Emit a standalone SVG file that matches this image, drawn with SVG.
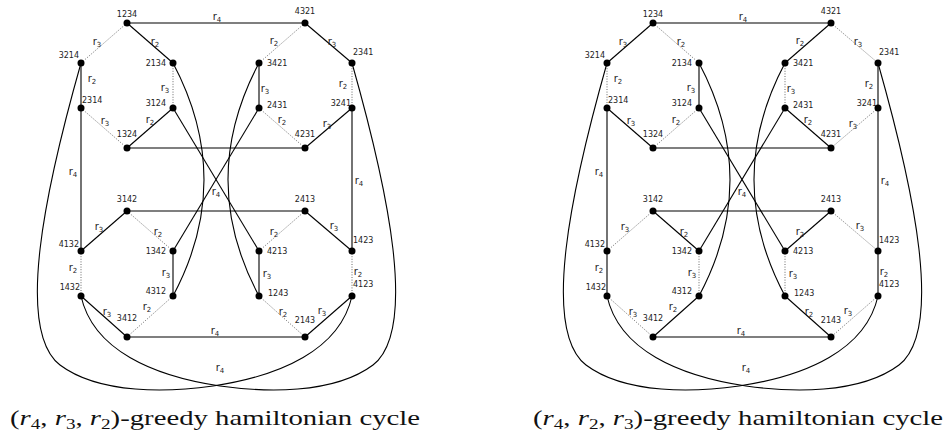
<svg xmlns="http://www.w3.org/2000/svg" width="950" height="442" viewBox="0 0 950 442">
<style>
.s{stroke:#000;stroke-width:1.1;fill:none}
.d{stroke:#444;stroke-width:0.8;fill:none;stroke-dasharray:1 1.6}
.n circle{fill:#000}
.nl{font-family:"DejaVu Sans",sans-serif;font-size:8px;fill:#222}
.rl{font-family:"DejaVu Sans",sans-serif;font-size:10px;fill:#222;text-anchor:middle}
.sub{font-size:7px}
.cap{font-family:"Liberation Serif",serif;font-size:21px;fill:#111}
.m{text-anchor:middle}.e{text-anchor:end}
</style>
<rect width="950" height="442" fill="#fff"/>

<!-- LEFT DIAGRAM -->
<g id="left">
<g id="L-connectors">
<line class="s" x1="127" y1="23" x2="173" y2="63"/>
<line class="s" x1="81" y1="63" x2="81" y2="108"/>
<line class="s" x1="173" y1="108" x2="127" y2="148"/>
<line class="s" x1="305" y1="23" x2="352" y2="63"/>
<line class="s" x1="259" y1="63" x2="259" y2="108"/>
<line class="s" x1="352" y1="108" x2="305" y2="148"/>
<line class="s" x1="127" y1="211" x2="81" y2="251"/>
<line class="s" x1="173" y1="251" x2="173" y2="296"/>
<line class="s" x1="81" y1="296" x2="127" y2="337"/>
<line class="s" x1="305" y1="211" x2="352" y2="251"/>
<line class="s" x1="259" y1="251" x2="259" y2="296"/>
<line class="s" x1="352" y1="296" x2="305" y2="337"/>
<line class="d" x1="127" y1="23" x2="81" y2="63"/>
<line class="d" x1="173" y1="63" x2="173" y2="108"/>
<line class="d" x1="81" y1="108" x2="127" y2="148"/>
<line class="d" x1="305" y1="23" x2="259" y2="63"/>
<line class="d" x1="352" y1="63" x2="352" y2="108"/>
<line class="d" x1="259" y1="108" x2="305" y2="148"/>
<line class="d" x1="127" y1="211" x2="173" y2="251"/>
<line class="d" x1="81" y1="251" x2="81" y2="296"/>
<line class="d" x1="173" y1="296" x2="127" y2="337"/>
<line class="d" x1="305" y1="211" x2="259" y2="251"/>
<line class="d" x1="352" y1="251" x2="352" y2="296"/>
<line class="d" x1="259" y1="296" x2="305" y2="337"/>
<line class="s" x1="127" y1="23" x2="305" y2="23"/>
<line class="s" x1="127" y1="148" x2="305" y2="148"/>
<line class="s" x1="127" y1="211" x2="305" y2="211"/>
<line class="s" x1="127" y1="337" x2="305" y2="337"/>
<line class="s" x1="81" y1="108" x2="81" y2="251"/>
<line class="s" x1="352" y1="108" x2="352" y2="251"/>
<line class="s" x1="173" y1="108" x2="259" y2="251"/>
<line class="s" x1="259" y1="108" x2="173" y2="251"/>
<path class="s" d="M173,63 Q235,180 173,296"/>
<path class="s" d="M259,63 Q197,180 259,296"/>
<path class="s" d="M81,63 C45,190 15,330 60,365 C100,395 170,392 213,386 C280,376 340,350 352,296"/>
<path class="s" d="M352,63 C388,190 418,330 373,365 C333,395 263,392 220,386 C153,376 93,350 81,296"/>
<text class="rl" x="97" y="45">r<tspan class="sub" dy="2">3</tspan></text>
<text class="rl" x="155" y="45">r<tspan class="sub" dy="2">2</tspan></text>
<text class="rl" x="92" y="82">r<tspan class="sub" dy="2">2</tspan></text>
<text class="rl" x="165" y="91">r<tspan class="sub" dy="2">3</tspan></text>
<text class="rl" x="105" y="124">r<tspan class="sub" dy="2">3</tspan></text>
<text class="rl" x="150" y="123">r<tspan class="sub" dy="2">2</tspan></text>
<text class="rl" x="274" y="44">r<tspan class="sub" dy="2">2</tspan></text>
<text class="rl" x="332" y="45">r<tspan class="sub" dy="2">3</tspan></text>
<text class="rl" x="265" y="92">r<tspan class="sub" dy="2">3</tspan></text>
<text class="rl" x="343" y="87">r<tspan class="sub" dy="2">2</tspan></text>
<text class="rl" x="282" y="123">r<tspan class="sub" dy="2">2</tspan></text>
<text class="rl" x="327" y="127">r<tspan class="sub" dy="2">3</tspan></text>
<text class="rl" x="99" y="230">r<tspan class="sub" dy="2">3</tspan></text>
<text class="rl" x="158" y="235">r<tspan class="sub" dy="2">2</tspan></text>
<text class="rl" x="73" y="271">r<tspan class="sub" dy="2">2</tspan></text>
<text class="rl" x="166" y="276">r<tspan class="sub" dy="2">3</tspan></text>
<text class="rl" x="107" y="315">r<tspan class="sub" dy="2">3</tspan></text>
<text class="rl" x="147" y="310">r<tspan class="sub" dy="2">2</tspan></text>
<text class="rl" x="274" y="235">r<tspan class="sub" dy="2">2</tspan></text>
<text class="rl" x="334" y="229">r<tspan class="sub" dy="2">3</tspan></text>
<text class="rl" x="267" y="277">r<tspan class="sub" dy="2">3</tspan></text>
<text class="rl" x="358" y="275">r<tspan class="sub" dy="2">2</tspan></text>
<text class="rl" x="283" y="315">r<tspan class="sub" dy="2">2</tspan></text>
<text class="rl" x="322" y="314">r<tspan class="sub" dy="2">3</tspan></text>
<text class="rl" x="217" y="20">r<tspan class="sub" dy="2">4</tspan></text>
<text class="rl" x="73" y="175">r<tspan class="sub" dy="2">4</tspan></text>
<text class="rl" x="216" y="195">r<tspan class="sub" dy="2">4</tspan></text>
<text class="rl" x="359" y="184">r<tspan class="sub" dy="2">4</tspan></text>
<text class="rl" x="215" y="334">r<tspan class="sub" dy="2">4</tspan></text>
<text class="rl" x="220" y="371">r<tspan class="sub" dy="2">4</tspan></text>
</g>
<g id="L-1234" class="n"><circle cx="127" cy="23" r="3.5"/><text class="nl m" x="127" y="17">1234</text></g>
<g id="L-3214" class="n"><circle cx="81" cy="63" r="3.5"/><text class="nl e" x="79" y="58">3214</text></g>
<g id="L-2134" class="n"><circle cx="173" cy="63" r="3.5"/><text class="nl e" x="166" y="66">2134</text></g>
<g id="L-2314" class="n"><circle cx="81" cy="108" r="3.5"/><text class="nl" x="82" y="103">2314</text></g>
<g id="L-3124" class="n"><circle cx="173" cy="108" r="3.5"/><text class="nl e" x="166" y="106">3124</text></g>
<g id="L-1324" class="n"><circle cx="127" cy="148" r="3.5"/><text class="nl m" x="127" y="137">1324</text></g>
<g id="L-4321" class="n"><circle cx="305" cy="23" r="3.5"/><text class="nl m" x="305" y="14">4321</text></g>
<g id="L-3421" class="n"><circle cx="259" cy="63" r="3.5"/><text class="nl" x="267" y="66">3421</text></g>
<g id="L-2341" class="n"><circle cx="352" cy="63" r="3.5"/><text class="nl" x="353" y="55">2341</text></g>
<g id="L-2431" class="n"><circle cx="259" cy="108" r="3.5"/><text class="nl" x="267" y="108">2431</text></g>
<g id="L-3241" class="n"><circle cx="352" cy="108" r="3.5"/><text class="nl e" x="351" y="106">3241</text></g>
<g id="L-4231" class="n"><circle cx="305" cy="148" r="3.5"/><text class="nl m" x="305" y="137">4231</text></g>
<g id="L-3142" class="n"><circle cx="127" cy="211" r="3.5"/><text class="nl m" x="127" y="202">3142</text></g>
<g id="L-4132" class="n"><circle cx="81" cy="251" r="3.5"/><text class="nl e" x="79" y="247">4132</text></g>
<g id="L-1342" class="n"><circle cx="173" cy="251" r="3.5"/><text class="nl e" x="166" y="254">1342</text></g>
<g id="L-1432" class="n"><circle cx="81" cy="296" r="3.5"/><text class="nl e" x="80" y="290">1432</text></g>
<g id="L-4312" class="n"><circle cx="173" cy="296" r="3.5"/><text class="nl e" x="166" y="294">4312</text></g>
<g id="L-3412" class="n"><circle cx="127" cy="337" r="3.5"/><text class="nl m" x="127" y="321">3412</text></g>
<g id="L-2413" class="n"><circle cx="305" cy="211" r="3.5"/><text class="nl m" x="305" y="202">2413</text></g>
<g id="L-4213" class="n"><circle cx="259" cy="251" r="3.5"/><text class="nl" x="267" y="254">4213</text></g>
<g id="L-1423" class="n"><circle cx="352" cy="251" r="3.5"/><text class="nl" x="353" y="243">1423</text></g>
<g id="L-1243" class="n"><circle cx="259" cy="296" r="3.5"/><text class="nl" x="268" y="296">1243</text></g>
<g id="L-4123" class="n"><circle cx="352" cy="296" r="3.5"/><text class="nl" x="353" y="287">4123</text></g>
<g id="L-2143" class="n"><circle cx="305" cy="337" r="3.5"/><text class="nl m" x="305" y="323">2143</text></g>
</g>

<!-- RIGHT DIAGRAM -->
<g id="right" transform="translate(526,0)">
<g id="R-connectors">
<line class="d" x1="127" y1="23" x2="173" y2="63"/>
<line class="d" x1="81" y1="63" x2="81" y2="108"/>
<line class="d" x1="173" y1="108" x2="127" y2="148"/>
<line class="d" x1="305" y1="23" x2="352" y2="63"/>
<line class="d" x1="259" y1="63" x2="259" y2="108"/>
<line class="d" x1="352" y1="108" x2="305" y2="148"/>
<line class="d" x1="127" y1="211" x2="81" y2="251"/>
<line class="d" x1="173" y1="251" x2="173" y2="296"/>
<line class="d" x1="81" y1="296" x2="127" y2="337"/>
<line class="d" x1="305" y1="211" x2="352" y2="251"/>
<line class="d" x1="259" y1="251" x2="259" y2="296"/>
<line class="d" x1="352" y1="296" x2="305" y2="337"/>
<line class="s" x1="127" y1="23" x2="81" y2="63"/>
<line class="s" x1="173" y1="63" x2="173" y2="108"/>
<line class="s" x1="81" y1="108" x2="127" y2="148"/>
<line class="s" x1="305" y1="23" x2="259" y2="63"/>
<line class="s" x1="352" y1="63" x2="352" y2="108"/>
<line class="s" x1="259" y1="108" x2="305" y2="148"/>
<line class="s" x1="127" y1="211" x2="173" y2="251"/>
<line class="s" x1="81" y1="251" x2="81" y2="296"/>
<line class="s" x1="173" y1="296" x2="127" y2="337"/>
<line class="s" x1="305" y1="211" x2="259" y2="251"/>
<line class="s" x1="352" y1="251" x2="352" y2="296"/>
<line class="s" x1="259" y1="296" x2="305" y2="337"/>
<line class="s" x1="127" y1="23" x2="305" y2="23"/>
<line class="s" x1="127" y1="148" x2="305" y2="148"/>
<line class="s" x1="127" y1="211" x2="305" y2="211"/>
<line class="s" x1="127" y1="337" x2="305" y2="337"/>
<line class="s" x1="81" y1="108" x2="81" y2="251"/>
<line class="s" x1="352" y1="108" x2="352" y2="251"/>
<line class="s" x1="173" y1="108" x2="259" y2="251"/>
<line class="s" x1="259" y1="108" x2="173" y2="251"/>
<path class="s" d="M173,63 Q235,180 173,296"/>
<path class="s" d="M259,63 Q197,180 259,296"/>
<path class="s" d="M81,63 C45,190 15,330 60,365 C100,395 170,392 213,386 C280,376 340,350 352,296"/>
<path class="s" d="M352,63 C388,190 418,330 373,365 C333,395 263,392 220,386 C153,376 93,350 81,296"/>
<text class="rl" x="97" y="45">r<tspan class="sub" dy="2">3</tspan></text>
<text class="rl" x="155" y="45">r<tspan class="sub" dy="2">2</tspan></text>
<text class="rl" x="92" y="82">r<tspan class="sub" dy="2">2</tspan></text>
<text class="rl" x="165" y="91">r<tspan class="sub" dy="2">3</tspan></text>
<text class="rl" x="105" y="124">r<tspan class="sub" dy="2">3</tspan></text>
<text class="rl" x="150" y="123">r<tspan class="sub" dy="2">2</tspan></text>
<text class="rl" x="274" y="44">r<tspan class="sub" dy="2">2</tspan></text>
<text class="rl" x="332" y="45">r<tspan class="sub" dy="2">3</tspan></text>
<text class="rl" x="265" y="92">r<tspan class="sub" dy="2">3</tspan></text>
<text class="rl" x="343" y="87">r<tspan class="sub" dy="2">2</tspan></text>
<text class="rl" x="282" y="123">r<tspan class="sub" dy="2">2</tspan></text>
<text class="rl" x="327" y="127">r<tspan class="sub" dy="2">3</tspan></text>
<text class="rl" x="99" y="230">r<tspan class="sub" dy="2">3</tspan></text>
<text class="rl" x="158" y="235">r<tspan class="sub" dy="2">2</tspan></text>
<text class="rl" x="73" y="271">r<tspan class="sub" dy="2">2</tspan></text>
<text class="rl" x="166" y="276">r<tspan class="sub" dy="2">3</tspan></text>
<text class="rl" x="107" y="315">r<tspan class="sub" dy="2">3</tspan></text>
<text class="rl" x="147" y="310">r<tspan class="sub" dy="2">2</tspan></text>
<text class="rl" x="274" y="235">r<tspan class="sub" dy="2">2</tspan></text>
<text class="rl" x="334" y="229">r<tspan class="sub" dy="2">3</tspan></text>
<text class="rl" x="267" y="277">r<tspan class="sub" dy="2">3</tspan></text>
<text class="rl" x="358" y="275">r<tspan class="sub" dy="2">2</tspan></text>
<text class="rl" x="283" y="315">r<tspan class="sub" dy="2">2</tspan></text>
<text class="rl" x="322" y="314">r<tspan class="sub" dy="2">3</tspan></text>
<text class="rl" x="217" y="20">r<tspan class="sub" dy="2">4</tspan></text>
<text class="rl" x="73" y="175">r<tspan class="sub" dy="2">4</tspan></text>
<text class="rl" x="216" y="195">r<tspan class="sub" dy="2">4</tspan></text>
<text class="rl" x="359" y="184">r<tspan class="sub" dy="2">4</tspan></text>
<text class="rl" x="215" y="334">r<tspan class="sub" dy="2">4</tspan></text>
<text class="rl" x="220" y="371">r<tspan class="sub" dy="2">4</tspan></text>
</g>
<g id="R-1234" class="n"><circle cx="127" cy="23" r="3.5"/><text class="nl m" x="127" y="17">1234</text></g>
<g id="R-3214" class="n"><circle cx="81" cy="63" r="3.5"/><text class="nl e" x="79" y="58">3214</text></g>
<g id="R-2134" class="n"><circle cx="173" cy="63" r="3.5"/><text class="nl e" x="166" y="66">2134</text></g>
<g id="R-2314" class="n"><circle cx="81" cy="108" r="3.5"/><text class="nl" x="82" y="103">2314</text></g>
<g id="R-3124" class="n"><circle cx="173" cy="108" r="3.5"/><text class="nl e" x="166" y="106">3124</text></g>
<g id="R-1324" class="n"><circle cx="127" cy="148" r="3.5"/><text class="nl m" x="127" y="137">1324</text></g>
<g id="R-4321" class="n"><circle cx="305" cy="23" r="3.5"/><text class="nl m" x="305" y="14">4321</text></g>
<g id="R-3421" class="n"><circle cx="259" cy="63" r="3.5"/><text class="nl" x="267" y="66">3421</text></g>
<g id="R-2341" class="n"><circle cx="352" cy="63" r="3.5"/><text class="nl" x="353" y="55">2341</text></g>
<g id="R-2431" class="n"><circle cx="259" cy="108" r="3.5"/><text class="nl" x="267" y="108">2431</text></g>
<g id="R-3241" class="n"><circle cx="352" cy="108" r="3.5"/><text class="nl e" x="351" y="106">3241</text></g>
<g id="R-4231" class="n"><circle cx="305" cy="148" r="3.5"/><text class="nl m" x="305" y="137">4231</text></g>
<g id="R-3142" class="n"><circle cx="127" cy="211" r="3.5"/><text class="nl m" x="127" y="202">3142</text></g>
<g id="R-4132" class="n"><circle cx="81" cy="251" r="3.5"/><text class="nl e" x="79" y="247">4132</text></g>
<g id="R-1342" class="n"><circle cx="173" cy="251" r="3.5"/><text class="nl e" x="166" y="254">1342</text></g>
<g id="R-1432" class="n"><circle cx="81" cy="296" r="3.5"/><text class="nl e" x="80" y="290">1432</text></g>
<g id="R-4312" class="n"><circle cx="173" cy="296" r="3.5"/><text class="nl e" x="166" y="294">4312</text></g>
<g id="R-3412" class="n"><circle cx="127" cy="337" r="3.5"/><text class="nl m" x="127" y="321">3412</text></g>
<g id="R-2413" class="n"><circle cx="305" cy="211" r="3.5"/><text class="nl m" x="305" y="202">2413</text></g>
<g id="R-4213" class="n"><circle cx="259" cy="251" r="3.5"/><text class="nl" x="267" y="254">4213</text></g>
<g id="R-1423" class="n"><circle cx="352" cy="251" r="3.5"/><text class="nl" x="353" y="243">1423</text></g>
<g id="R-1243" class="n"><circle cx="259" cy="296" r="3.5"/><text class="nl" x="268" y="296">1243</text></g>
<g id="R-4123" class="n"><circle cx="352" cy="296" r="3.5"/><text class="nl" x="353" y="287">4123</text></g>
<g id="R-2143" class="n"><circle cx="305" cy="337" r="3.5"/><text class="nl m" x="305" y="323">2143</text></g>
</g>

<text class="cap" x="10" y="425" textLength="410" lengthAdjust="spacingAndGlyphs">(<tspan font-style="italic">r</tspan><tspan font-size="14" dy="4">4</tspan><tspan dy="-4">, </tspan><tspan font-style="italic">r</tspan><tspan font-size="14" dy="4">3</tspan><tspan dy="-4">, </tspan><tspan font-style="italic">r</tspan><tspan font-size="14" dy="4">2</tspan><tspan dy="-4">)-greedy hamiltonian cycle</tspan></text>
<text class="cap" x="533" y="425" textLength="410" lengthAdjust="spacingAndGlyphs">(<tspan font-style="italic">r</tspan><tspan font-size="14" dy="4">4</tspan><tspan dy="-4">, </tspan><tspan font-style="italic">r</tspan><tspan font-size="14" dy="4">2</tspan><tspan dy="-4">, </tspan><tspan font-style="italic">r</tspan><tspan font-size="14" dy="4">3</tspan><tspan dy="-4">)-greedy hamiltonian cycle</tspan></text>
</svg>
